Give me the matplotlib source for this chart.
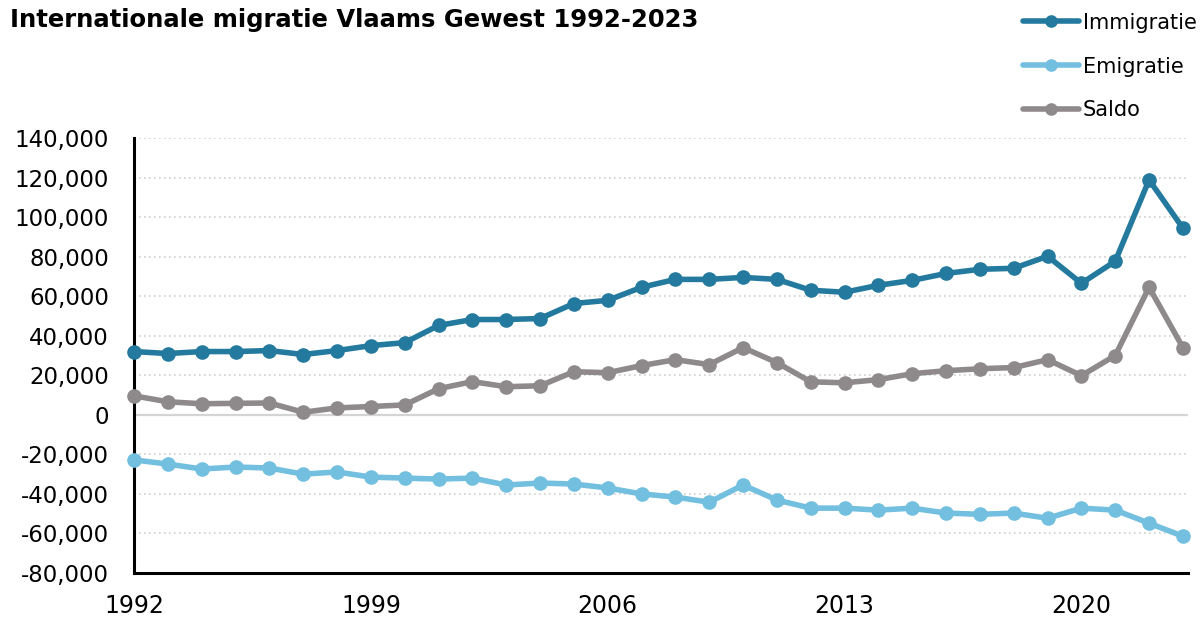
import matplotlib
matplotlib.use("Agg")
import matplotlib.pyplot as plt
from matplotlib.ticker import FuncFormatter, MultipleLocator

years = list(range(1992, 2024))
immigratie = [32000, 31000, 32000, 32000, 32500, 30500, 32500, 35000, 36500, 45200,
              48200, 48200, 48700, 56300, 57900, 64500, 68500, 68500, 69500, 68500,
              63000, 62000, 65500, 68000, 71500, 73600, 74100, 80200, 66500, 77700,
              118800, 94400]
emigratie = [-22800, -24900, -27400, -26400, -26900, -30000, -28900, -31500, -32000, -32500,
             -32000, -35500, -34500, -35000, -37000, -40000, -41600, -44200, -35500, -43100,
             -47200, -47200, -48200, -47200, -49700, -50300, -49700, -52300, -47200, -48200,
             -54800, -61400]
saldo = [9600, 6600, 5600, 5800, 6000, 1300, 3500, 4200, 5000, 13200,
         16800, 14200, 14700, 21800, 21300, 24900, 27900, 25400, 34000, 26400,
         16700, 16200, 17800, 20800, 22300, 23300, 23900, 27900, 19800, 30000,
         64500, 34000]
series_names = ["Immigratie", "Emigratie", "Saldo"]
colors = ["#237a9e", "#72bfe0", "#8e8a8b"]
xticks = [1992, 1999, 2006, 2013, 2020]
title = "Internationale migratie Vlaams Gewest 1992-2023"

plt.rcParams['font.family'] = ['DejaVu Sans']
fig = plt.figure(figsize=(12, 6.18), dpi=100)
ax = fig.add_axes([0.1117, 0.0728, 0.99 - 0.1117, 0.7767 - 0.0728])

for vals, name, c in zip([immigratie, emigratie, saldo], series_names, colors):
    ax.plot(years, vals, color=c, lw=4, marker='o', ms=9.5, label=name,
            solid_capstyle='round', zorder=3, clip_on=False)

ax.set_ylim(-80000, 140000)
ax.set_xlim(1992, 2023.15)
ax.yaxis.set_major_locator(MultipleLocator(20000))
ax.yaxis.set_major_formatter(FuncFormatter(lambda v, p: f"{int(v):,}"))
ax.set_xticks(xticks)

for v in range(-60000, 140001, 20000):
    if v == 0:
        ax.axhline(0, color="#d4d4d4", lw=1.6, zorder=1)
    else:
        ax.axhline(v, color="#cfcfcf", lw=1.2, ls=(0, (1, 2)), zorder=1)

for s in ["top", "right"]:
    ax.spines[s].set_visible(False)
ax.spines["left"].set_linewidth(2.2)
ax.spines["bottom"].set_linewidth(2.2)
ax.spines["left"].set_color("black")
ax.spines["bottom"].set_color("black")
ax.tick_params(axis='y', length=0, pad=18, labelsize=16.5, colors="black")
ax.tick_params(axis='x', length=0, pad=15, labelsize=17, colors="black")

fig.text(0.008, 0.967, title, fontsize=17.5, fontweight='bold', va='center', ha='left')

leg = fig.legend(loc='upper right', bbox_to_anchor=(1.013, 1.01), frameon=False,
                 fontsize=15, handlelength=2.7, labelspacing=1.15, handletextpad=0.2,
                 markerscale=0.85)

fig.savefig("out.png", dpi=100)
